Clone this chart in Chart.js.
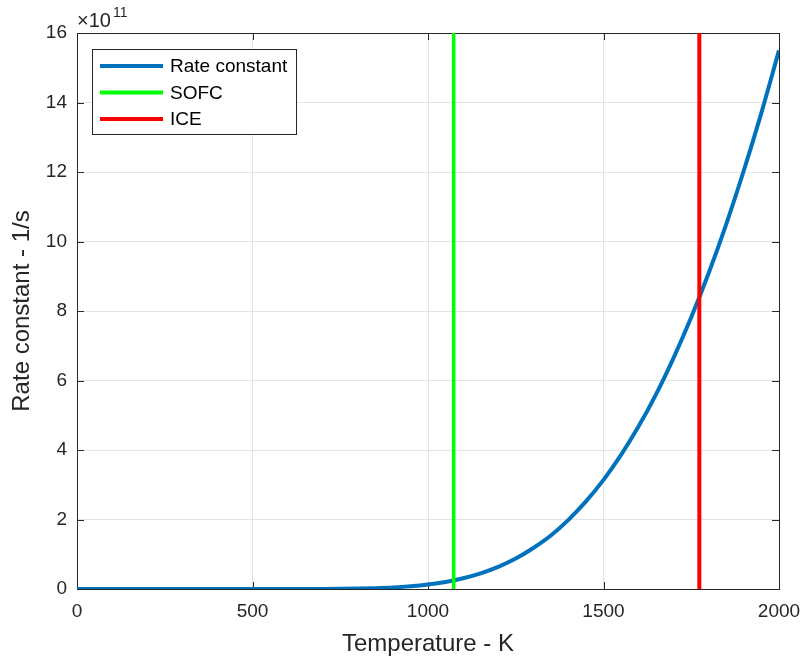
<!DOCTYPE html>
<html>
<head>
<meta charset="utf-8">
<script src="https://cdn.jsdelivr.net/npm/chart.js@4.4.1/dist/chart.umd.min.js"></script>
<style>
  html, body { margin: 0; padding: 0; background: #fff; }
</style>
</head>
<body>
<canvas id="chartRateConstant" width="805" height="659"></canvas>
<script>
// Datos (k en unidades de 1e11 1/s)
const temperatures = [0, 100, 200, 300, 400, 500, 600, 700, 800, 850, 900, 950, 1000, 1050, 1100,
  1150, 1200, 1250, 1300, 1350, 1400, 1450, 1500, 1550, 1600, 1650, 1700, 1750, 1800, 1850, 1900, 1950, 2000];
const rateConstant = [0, 0, 0, 0, 0, 0, 0.0002, 0.002, 0.012, 0.024, 0.044, 0.078, 0.129, 0.203, 0.308,
  0.449, 0.636, 0.875, 1.18, 1.54, 1.99, 2.52, 3.14, 3.86, 4.68, 5.61, 6.66, 7.82, 9.10, 10.51, 12.05, 13.71, 15.5];
const sofcTemperature = 1073;
const iceTemperature = 1773;
const xTicks = [0, 500, 1000, 1500, 2000];
const yTicks = [0, 2, 4, 6, 8, 10, 12, 14, 16];
const seriesLabels = ['Rate constant', 'SOFC', 'ICE'];
const exponentText = ['\u00d710', '11'];

(function() {
  'use strict';

  const COLORS = ['#0072BD', '#00FF00', '#FF0000'];
  const AXIS_COLOR = '#262626';
  const FONT = '"Liberation Sans", Arial, sans-serif';

  // Caja, marcas de eje, leyenda y exponente al estilo MATLAB
  const matlabAxes = {
    id: 'matlabAxes',
    beforeDatasetsDraw(chart) {
      const { ctx, chartArea: a, scales: { x, y } } = chart;
      ctx.save();
      ctx.strokeStyle = AXIS_COLOR;
      ctx.lineWidth = 1;
      ctx.beginPath();
      xTicks.forEach(v => {
        const px = Math.round(x.getPixelForValue(v)) + 0.5;
        ctx.moveTo(px, a.bottom); ctx.lineTo(px, a.bottom - 7);
        ctx.moveTo(px, a.top); ctx.lineTo(px, a.top + 7);
      });
      yTicks.forEach(v => {
        const py = Math.round(y.getPixelForValue(v)) + 0.5;
        ctx.moveTo(a.left, py); ctx.lineTo(a.left + 7, py);
        ctx.moveTo(a.right, py); ctx.lineTo(a.right - 7, py);
      });
      ctx.stroke();
      ctx.strokeRect(Math.round(a.left) + 0.5, Math.round(a.top) + 0.5,
        Math.round(a.right - a.left), Math.round(a.bottom - a.top));
      ctx.restore();
    },
    afterDraw(chart) {
      const { ctx, chartArea: a } = chart;
      ctx.save();
      // exponente
      ctx.fillStyle = AXIS_COLOR;
      ctx.textBaseline = 'alphabetic';
      ctx.font = '20px ' + FONT;
      ctx.fillText(exponentText[0], a.left, 27);
      const w = ctx.measureText(exponentText[0]).width;
      ctx.font = '14px ' + FONT;
      ctx.fillText(exponentText[1], a.left + w + 2, 17);

      // leyenda
      const box = { x: 92.5, y: 49.5, w: 204, h: 85 };
      ctx.fillStyle = '#fff';
      ctx.fillRect(box.x, box.y, box.w, box.h);
      ctx.strokeStyle = AXIS_COLOR;
      ctx.lineWidth = 1;
      ctx.strokeRect(box.x, box.y, box.w, box.h);
      ctx.font = '19px ' + FONT;
      ctx.textBaseline = 'middle';
      seriesLabels.forEach((label, i) => {
        const ly = 66 + i * 26.5;
        ctx.strokeStyle = COLORS[i];
        ctx.lineWidth = 4;
        ctx.beginPath();
        ctx.moveTo(100, ly); ctx.lineTo(163, ly);
        ctx.stroke();
        ctx.fillStyle = '#000';
        ctx.fillText(label, 170, ly + 1);
      });
      ctx.restore();
    }
  };

  function verticalLine(t) {
    return [{ x: t, y: yTicks[0] }, { x: t, y: yTicks[yTicks.length - 1] }];
  }

  function init() {
    const canvas = document.getElementById('chartRateConstant');
    const ctx = canvas.getContext('2d');

    new Chart(ctx, {
      type: 'line',
      data: {
        datasets: [
          {
            label: seriesLabels[0],
            data: temperatures.map((t, i) => ({ x: t, y: rateConstant[i] })),
            borderColor: COLORS[0],
            borderWidth: 4,
            pointRadius: 0,
            cubicInterpolationMode: 'monotone',
            order: 3
          },
          {
            label: seriesLabels[1],
            data: verticalLine(sofcTemperature),
            borderColor: COLORS[1],
            borderWidth: 3.5,
            pointRadius: 0,
            order: 2
          },
          {
            label: seriesLabels[2],
            data: verticalLine(iceTemperature),
            borderColor: COLORS[2],
            borderWidth: 4,
            pointRadius: 0,
            order: 1
          }
        ]
      },
      options: {
        responsive: false,
        animation: false,
        devicePixelRatio: 1,
        layout: { padding: { top: 33, right: 26, left: 0, bottom: 0 } },
        plugins: {
          legend: { display: false },
          tooltip: { enabled: false }
        },
        scales: {
          x: {
            type: 'linear',
            min: 0,
            max: 2000,
            afterBuildTicks: s => { s.ticks = xTicks.map(v => ({ value: v })); },
            afterFit: s => {
              s.height = 70;
              s.paddingLeft = 0;
              s.paddingRight = 0;
            },
            ticks: {
              color: AXIS_COLOR,
              font: { size: 19, family: FONT },
              padding: 11,
              maxRotation: 0,
              callback: v => String(v)
            },
            grid: { color: '#e3e3e3', drawTicks: false },
            border: { display: false },
            title: {
              display: true,
              text: 'Temperature - K',
              color: AXIS_COLOR,
              font: { size: 24, family: FONT, lineHeight: 1.2 },
              padding: { top: 0, bottom: 0 }
            }
          },
          y: {
            type: 'linear',
            min: 0,
            max: 16,
            afterBuildTicks: s => { s.ticks = yTicks.map(v => ({ value: v })); },
            afterFit: s => { s.width = 77; },
            ticks: {
              color: AXIS_COLOR,
              font: { size: 19, family: FONT },
              padding: 10,
              callback: v => String(v)
            },
            grid: { color: '#e3e3e3', drawTicks: false },
            border: { display: false },
            title: {
              display: true,
              text: 'Rate constant - 1/s',
              color: AXIS_COLOR,
              font: { size: 24, family: FONT, lineHeight: 1.2 },
              padding: { top: 8, bottom: 0 }
            }
          }
        }
      },
      plugins: [matlabAxes]
    });
  }

  if (document.readyState === 'loading') {
    document.addEventListener('DOMContentLoaded', init);
  } else {
    init();
  }
})();
</script>
</body>
</html>
